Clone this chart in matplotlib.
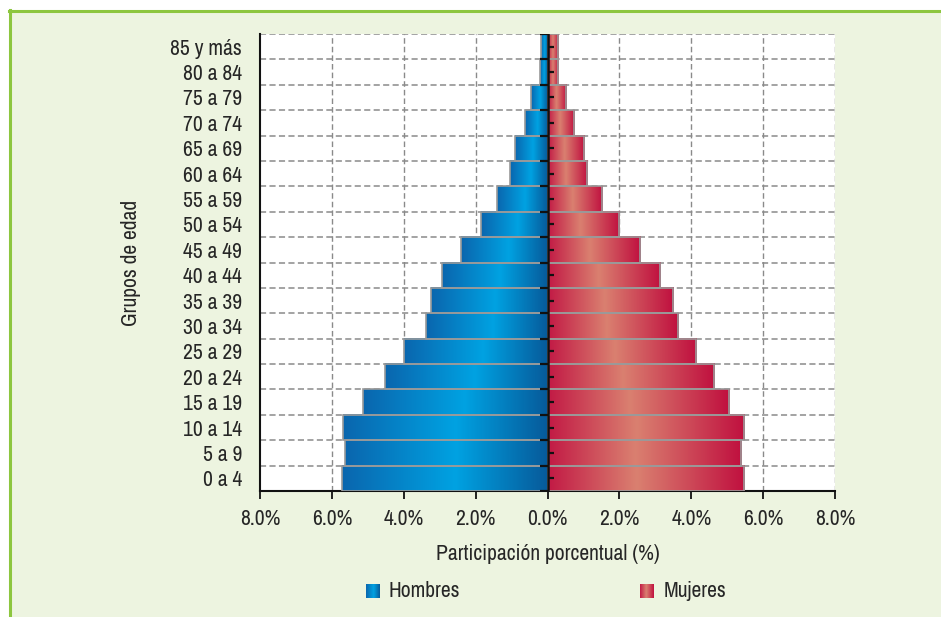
import numpy as np
import matplotlib
matplotlib.use('Agg')
import matplotlib.pyplot as plt
from matplotlib import font_manager
from matplotlib.colors import LinearSegmentedColormap
from matplotlib.patches import Rectangle
from matplotlib.lines import Line2D

# ---- data ----
groups = ['0 a 4', '5 a 9', '10 a 14', '15 a 19', '20 a 24', '25 a 29', '30 a 34',
          '35 a 39', '40 a 44', '45 a 49', '50 a 54', '55 a 59', '60 a 64',
          '65 a 69', '70 a 74', '75 a 79', '80 a 84', '85 y más']
hombres = [5.73, 5.63, 5.68, 5.13, 4.52, 3.98, 3.38, 3.24, 2.93, 2.42, 1.86,
           1.41, 1.05, 0.91, 0.63, 0.45, 0.22, 0.17]
mujeres = [5.47, 5.38, 5.47, 5.06, 4.64, 4.13, 3.64, 3.50, 3.13, 2.58, 2.00,
           1.52, 1.11, 1.02, 0.73, 0.51, 0.29, 0.29]
xticks = [-8, -6, -4, -2, 0, 2, 4, 6, 8]
xtick_labels = ['8.0%', '6.0%', '4.0%', '2.0%', '0.0%', '2.0%', '4.0%', '6.0%', '8.0%']
series_names = ['Hombres', 'Mujeres']

# pick a condensed font if one is installed
names = sorted({f.name for f in font_manager.fontManager.ttflist})
narrow = [n for n in names if ('Narrow' in n or 'Condensed' in n)]
main_font = narrow[0] if narrow else 'Liberation Sans'
FONT = [main_font, 'DejaVu Sans']
plt.rcParams['font.family'] = FONT
plt.rcParams['font.weight'] = 'light'
FS = 15.5 if narrow else 13.5
TXT = '#262626'

BG = '#edf4e0'
BORDER = '#8dc63f'

blue_cmap = LinearSegmentedColormap.from_list(
    'b', [(0, '#0a66ae'), (0.55, '#00a2e2'), (1, '#075a9a')])
red_cmap = LinearSegmentedColormap.from_list(
    'r', [(0, '#c21a45'), (0.45, '#da8070'), (1, '#c0103f')])

fig = plt.figure(figsize=(9.41, 6.17), dpi=100)
fig.patch.set_facecolor('white')
# green panel with top/left border
fig.patches.append(Rectangle((9 / 941, 0), 1, 1 - 10 / 617, transform=fig.transFigure,
                             facecolor=BG, edgecolor='none', zorder=-10))
fig.lines.append(Line2D([9 / 941, 1], [1 - 11 / 617, 1 - 11 / 617], transform=fig.transFigure,
                        color=BORDER, lw=2.2, zorder=-5))
fig.lines.append(Line2D([10 / 941, 10 / 941], [0, 1 - 10 / 617], transform=fig.transFigure,
                        color=BORDER, lw=2.2, zorder=-5))

ax = fig.add_axes([260 / 941, 1 - 491 / 617, 575 / 941, 457 / 617])
ax.set_zorder(1)
ax.set_facecolor('white')

y = np.arange(len(groups))
grad = np.linspace(0, 1, 256).reshape(1, -1)

bars_h = ax.barh(y, [-v for v in hombres], height=1.0, color='none',
                 edgecolor='#9a9a9a', linewidth=1.2, zorder=4)
bars_m = ax.barh(y, mujeres, height=1.0, color='none',
                 edgecolor='#9a9a9a', linewidth=1.2, zorder=4)

for bars, cmap in ((bars_h, blue_cmap), (bars_m, red_cmap)):
    for p in bars:
        x0, y0 = p.get_x(), p.get_y()
        w, h = p.get_width(), p.get_height()
        xa, xb = min(x0, x0 + w), max(x0, x0 + w)
        ax.imshow(grad, cmap=cmap, extent=[xa, xb, y0, y0 + h], aspect='auto',
                  interpolation='bilinear', zorder=3)

ax.set_xlim(-8, 8)
ax.set_ylim(-0.5, len(groups) - 0.5)
ax.set_aspect('auto')

# grid
for b in np.arange(0.5, len(groups), 1.0):
    ax.axhline(b, color='#8a8a8a', lw=1.1, ls=(0, (4, 2.2)), zorder=1)
for xv in [-6, -4, -2, 2, 4, 6, 8]:
    ax.axvline(xv, color='#8a8a8a', lw=1.0, ls=(0, (4, 2.2)), zorder=1)

# center axis with small ticks
ax.axvline(0, color='#111111', lw=1.8, zorder=6)
ax.hlines(np.arange(-0.5, len(groups), 1.0), -0.2, 0, color='#111111', lw=1.6, zorder=6)
ax.hlines(y, 0, 0.17, color='#111111', lw=1.6, zorder=6)

for s in ['top', 'right']:
    ax.spines[s].set_visible(False)
for s in ['left', 'bottom']:
    ax.spines[s].set_color('#111111')
    ax.spines[s].set_linewidth(1.5)

ax.set_xticks(xticks)
ax.set_xticklabels(xtick_labels)
ax.set_yticks(y)
ax.set_yticklabels(groups)
ax.tick_params(axis='x', length=6, width=1.3, color='#111111', pad=7,
               labelsize=FS, labelcolor=TXT)
ax.tick_params(axis='y', length=0, pad=13, labelsize=FS, labelcolor=TXT)

ax.set_xlabel('Participación porcentual (%)', fontsize=FS, color=TXT, labelpad=11)
ax.set_ylabel('Grupos de edad', fontsize=FS, color=TXT, labelpad=21)

# legend
H = 617
W = 941
for (lx, tx, cmap, name) in ((366, 388, blue_cmap, series_names[0]),
                             (640, 664, red_cmap, series_names[1])):
    lax = fig.add_axes([lx / W, 1 - 598 / H, 14 / W, 14 / H])
    lax.imshow(grad, cmap=cmap, aspect='auto', interpolation='bilinear')
    lax.axis('off')
    fig.text(tx / W, 1 - 591 / H, name, fontsize=FS, color=TXT, va='center', ha='left')

fig.savefig('out.png', dpi=100, facecolor=fig.get_facecolor())
